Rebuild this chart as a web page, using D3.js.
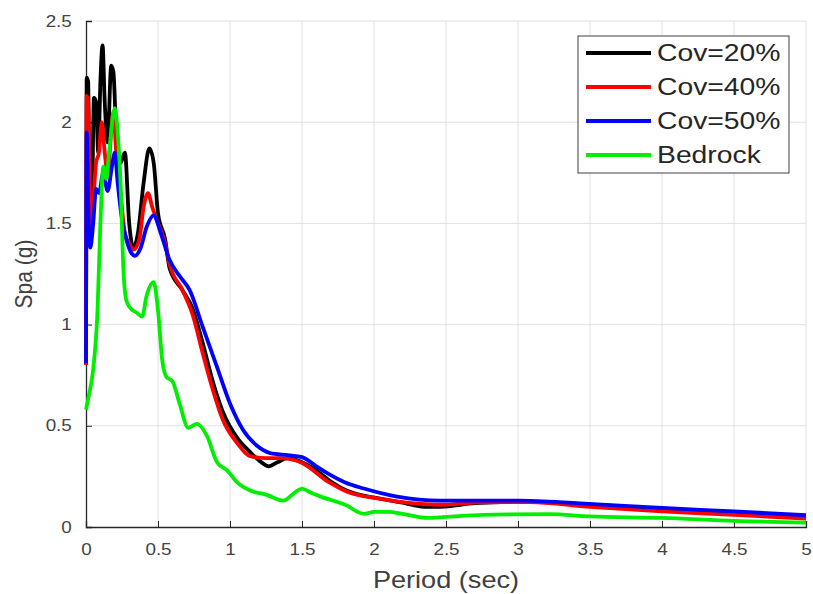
<!DOCTYPE html>
<html><head><meta charset="utf-8">
<script src="https://cdn.jsdelivr.net/npm/d3@7"></script>
<style>body{margin:0;background:#fff;}svg{display:block;}</style>
</head><body>
<svg id="c" width="813" height="594"></svg>
<script>
const xTicks = [0,0.5,1,1.5,2,2.5,3,3.5,4,4.5,5];
const yTicks = [0,0.5,1,1.5,2,2.5];
const seriesNames = ["Cov=20%","Cov=40%","Cov=50%","Bedrock"];
const seriesColors = ["#000000","#ff0000","#0000ff","#00ee00"];

const cov20 = [[0,0.8],[0.005,2.22],[0.015,2.2],[0.025,1.6],[0.04,1.55],[0.055,2.12],[0.07,2.1],[0.085,1.85],[0.1,2.2],[0.115,2.38],[0.13,2.1],[0.15,1.9],[0.175,2.28],[0.19,2.25],[0.21,1.95],[0.24,1.8],[0.27,1.85],[0.3,1.5],[0.33,1.38],[0.36,1.45],[0.4,1.7],[0.44,1.87],[0.47,1.8],[0.5,1.55],[0.55,1.42],[0.58,1.28],[0.67,1.17],[0.74,1.08],[0.81,0.91],[0.88,0.72],[0.95,0.57],[1.05,0.44],[1.14,0.37],[1.2,0.33],[1.27,0.30],[1.33,0.32],[1.4,0.34],[1.5,0.32],[1.58,0.29],[1.69,0.23],[1.81,0.18],[2.04,0.14],[2.2,0.12],[2.35,0.10],[2.46,0.10],[2.7,0.118],[3.0,0.125],[3.5,0.11],[4.0,0.088],[4.5,0.07],[5.0,0.05]];
const cov40 = [[0,0.8],[0.005,2.13],[0.015,2.1],[0.03,1.45],[0.05,1.6],[0.07,1.8],[0.09,1.85],[0.11,2.0],[0.13,1.85],[0.15,1.75],[0.175,1.95],[0.19,2.05],[0.21,1.85],[0.24,1.65],[0.27,1.45],[0.3,1.4],[0.33,1.37],[0.37,1.42],[0.4,1.58],[0.43,1.65],[0.46,1.58],[0.5,1.5],[0.55,1.4],[0.58,1.3],[0.67,1.17],[0.74,1.05],[0.81,0.86],[0.88,0.68],[0.95,0.53],[1.05,0.415],[1.14,0.35],[1.25,0.34],[1.35,0.34],[1.45,0.33],[1.49,0.32],[1.69,0.22],[1.81,0.175],[2.04,0.14],[2.3,0.115],[2.46,0.11],[2.74,0.122],[3.08,0.123],[3.5,0.10],[4.0,0.077],[4.5,0.06],[5.0,0.042]];
const cov50 = [[0,0.81],[0.005,1.95],[0.015,1.6],[0.03,1.38],[0.05,1.5],[0.07,1.67],[0.09,1.65],[0.12,1.75],[0.15,1.66],[0.18,1.78],[0.2,1.85],[0.22,1.7],[0.25,1.52],[0.28,1.42],[0.31,1.36],[0.34,1.34],[0.38,1.38],[0.42,1.48],[0.47,1.54],[0.52,1.45],[0.58,1.32],[0.65,1.24],[0.72,1.17],[0.81,0.99],[0.91,0.79],[1.0,0.61],[1.09,0.48],[1.19,0.40],[1.28,0.365],[1.4,0.355],[1.5,0.345],[1.6,0.30],[1.69,0.26],[1.8,0.22],[1.93,0.19],[2.16,0.15],[2.46,0.13],[3.0,0.13],[3.43,0.117],[4.0,0.094],[4.5,0.077],[5.0,0.058]];
const bedrock = [[0,0.58],[0.02,0.65],[0.05,0.78],[0.08,1.07],[0.1,1.5],[0.12,1.78],[0.14,1.72],[0.16,1.85],[0.2,2.07],[0.22,1.95],[0.24,1.7],[0.26,1.27],[0.28,1.12],[0.31,1.08],[0.35,1.06],[0.39,1.04],[0.42,1.14],[0.47,1.21],[0.5,1.07],[0.53,0.82],[0.56,0.74],[0.6,0.72],[0.65,0.61],[0.71,0.49],[0.77,0.51],[0.84,0.45],[0.91,0.32],[0.98,0.28],[1.05,0.22],[1.14,0.18],[1.25,0.16],[1.37,0.13],[1.45,0.17],[1.5,0.19],[1.56,0.17],[1.63,0.15],[1.8,0.11],[1.93,0.065],[2.0,0.075],[2.1,0.075],[2.2,0.065],[2.37,0.045],[2.5,0.05],[2.76,0.06],[3.22,0.064],[3.5,0.052],[4.0,0.045],[4.5,0.03],[5.0,0.022]];
const allSeries = [cov20, cov40, cov50, bedrock];

const L=86,R=806,T=21,B=527;
const FONT = "Liberation Sans, Arial, sans-serif";
const SX = 1.18;
const svg = d3.select("#c");
const x = d3.scaleLinear().domain([0,5]).range([L,R]);
const y = d3.scaleLinear().domain([0,2.5]).range([B,T]);

// grid
svg.append("g").selectAll("line").data(xTicks.slice(1)).join("line")
  .attr("x1",d=>x(d)).attr("x2",d=>x(d)).attr("y1",T).attr("y2",B)
  .attr("stroke","#e0e0e0").attr("stroke-width",1);
svg.append("g").selectAll("line").data(yTicks.slice(1)).join("line")
  .attr("x1",L).attr("x2",R).attr("y1",d=>y(d)).attr("y2",d=>y(d))
  .attr("stroke","#e0e0e0").attr("stroke-width",1);

// axes
const xAxis = d3.axisBottom(x).tickValues(xTicks).tickSize(-6).tickPadding(17).tickFormat(d3.format("~g"));
const yAxis = d3.axisLeft(y).tickValues(yTicks).tickSize(-6).tickPadding(12).tickFormat(d3.format("~g"));
const gx = svg.append("g").attr("transform",`translate(0,${B})`).call(xAxis);
const gy = svg.append("g").attr("transform",`translate(${L},0)`).call(yAxis);
[gx,gy].forEach(g=>{
  g.select(".domain").attr("stroke","#262626").attr("stroke-width",1.3);
  g.selectAll(".tick line").attr("stroke","#262626");
  g.selectAll(".tick text").attr("fill","#444").attr("font-family",FONT).attr("font-size",16)
    .attr("transform",`scale(${SX},1)`);
});

// lines
const line = d3.line().x(d=>x(d[0])).y(d=>y(d[1])).curve(d3.curveMonotoneX);
svg.append("g").selectAll("path").data(allSeries).join("path")
  .attr("d",line).attr("fill","none")
  .attr("stroke",(d,i)=>seriesColors[i]).attr("stroke-width",3.8)
  .attr("stroke-linejoin","round");

// axis labels
svg.append("text").attr("transform",`translate(${(L+R)/2},588) scale(${SX},1)`).attr("text-anchor","middle")
  .attr("font-family",FONT).attr("font-size",23).attr("fill","#404040")
  .text("Period (sec)");
svg.append("text").attr("transform",`translate(32,${(T+B)/2}) scale(${SX},1) rotate(-90)`).attr("text-anchor","middle")
  .attr("font-family",FONT).attr("font-size",21).attr("fill","#404040")
  .text("Spa (g)");

// legend
const lg = svg.append("g");
lg.append("rect").attr("x",578).attr("y",36).attr("width",211).attr("height",137)
  .attr("fill","#fff").attr("stroke","#404040").attr("stroke-width",1);
const rows = lg.selectAll("g").data(seriesNames).join("g")
  .attr("transform",(d,i)=>`translate(0,${53+i*34})`);
rows.append("line").attr("x1",586).attr("x2",651).attr("y1",0).attr("y2",0)
  .attr("stroke",(d,i)=>seriesColors[i]).attr("stroke-width",3.8);
rows.append("text").attr("transform",`translate(657,8) scale(${SX},1)`).attr("font-family",FONT)
  .attr("font-size",24).attr("fill","#262626").text(d=>d);
</script>
</body></html>
